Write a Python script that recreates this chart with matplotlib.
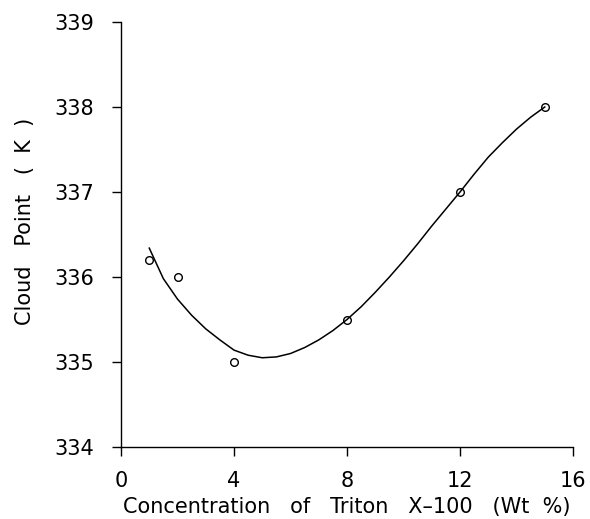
import matplotlib
matplotlib.use('Agg')
import matplotlib.pyplot as plt

# Measured cloud points
conc = [1, 2, 4, 8, 12, 15]
cloud_pt = [336.2, 336.0, 335.0, 335.5, 337.0, 338.0]

# Smoothed trend line through the measurements
fit_x = [1, 1.5, 2, 2.5, 3, 3.5, 4, 4.5, 5, 5.5, 6, 6.5, 7, 7.5, 8,
         8.5, 9, 9.5, 10, 10.5, 11, 11.5, 12, 12.5, 13, 13.5, 14, 14.5, 15]
fit_y = [336.34, 335.98, 335.74, 335.55, 335.39, 335.26, 335.14, 335.08, 335.05,
         335.06, 335.10, 335.17, 335.26, 335.37, 335.50, 335.65, 335.82, 336.00,
         336.19, 336.39, 336.60, 336.80, 337.00, 337.21, 337.41, 337.58, 337.74,
         337.88, 338.00]

xticks = [0, 4, 8, 12, 16]
yticks = [334, 335, 336, 337, 338, 339]

fig = plt.figure(figsize=(5.9, 5.19), dpi=100)
ax = fig.add_axes([0.2051, 0.1387, 0.7661, 0.8189])

ax.plot(fit_x, fit_y, color='black', linewidth=1.1)
ax.plot(conc, cloud_pt, linestyle='none', marker='o', markersize=5.5,
        markerfacecolor='none', markeredgecolor='black', markeredgewidth=1.0)

ax.set_xlim(0, 16)
ax.set_ylim(334, 339)
ax.set_xticks(xticks)
ax.set_yticks(yticks)

for side in ['top', 'right']:
    ax.spines[side].set_visible(False)
for side in ['left', 'bottom']:
    ax.spines[side].set_linewidth(1.0)

ax.tick_params(direction='out', length=6.5, width=1.0, labelsize=15)
ax.tick_params(axis='x', pad=11)
ax.tick_params(axis='y', pad=13)
ax.set_xlabel('Concentration   of   Triton   X\u2013100   (Wt  %)', fontsize=15, labelpad=4)
ax.set_ylabel('Cloud   Point   (  K  )', fontsize=15)
ax.yaxis.set_label_coords(-0.19, 0.53)

fig.savefig('out.png', dpi=100)
